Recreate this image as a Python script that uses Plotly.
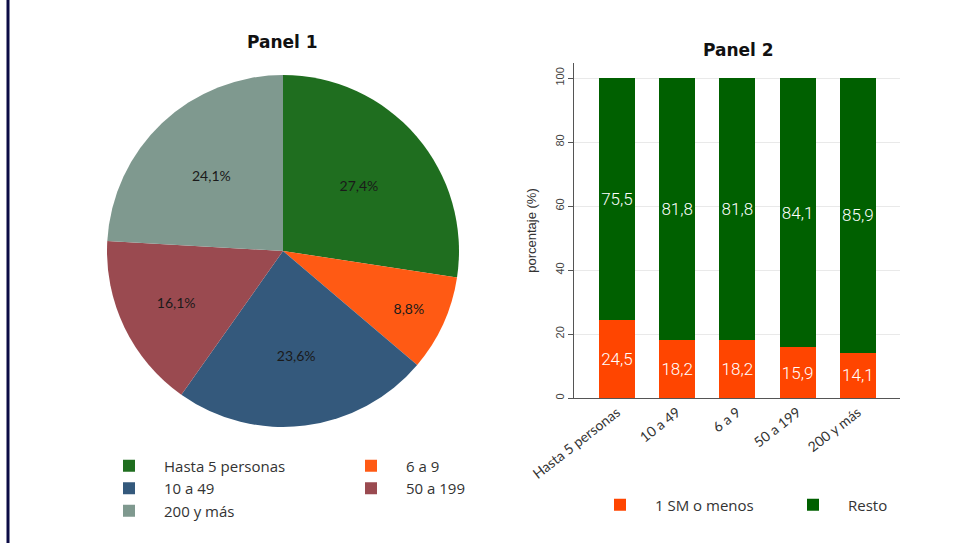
import plotly.graph_objects as go

# ---------------- data ----------------
pie_labels = ["Hasta 5 personas", "6 a 9", "10 a 49", "50 a 199", "200 y más"]
pie_values = [27.4, 8.8, 23.6, 16.1, 24.1]
pie_colors = ["#1f6e1f", "#ff5a14", "#34597c", "#9a4a50", "#7f998f"]

bar_categories = ["Hasta 5 personas", "10 a 49", "6 a 9", "50 a 199", "200 y más"]
bar_low = [24.5, 18.2, 18.2, 15.9, 14.1]
bar_rest = [75.5, 81.8, 81.8, 84.1, 85.9]
bar_names = ["1 SM o menos", "Resto"]
bar_colors = ["#ff4500", "#006000"]

y_ticks = [0, 20, 40, 60, 80, 100]

# ---------------- layout helpers ----------------
W, H = 961, 543
ML, MR = 107, 61
GW = W - ML - MR


def px(x):
    return (x - ML) / GW


def py(y):
    return (H - y) / H


FONT = "Open Sans"

fig = go.Figure()

fig.add_trace(go.Pie(
    labels=pie_labels,
    values=pie_values,
    sort=False,
    direction="clockwise",
    rotation=0,
    marker=dict(colors=pie_colors, line=dict(width=0)),
    texttemplate="%{value:.1f}%",
    textposition="inside",
    insidetextorientation="horizontal",
    textfont=dict(family="Lato", size=14, color="#1a1a1a"),
    domain=dict(x=[px(283 - 176), px(283 + 176)], y=[py(251 + 176), py(251 - 176)]),
    hoverinfo="label+value",
    legend="legend",
))

for name, vals, col in zip(bar_names, [bar_low, bar_rest], bar_colors):
    fig.add_trace(go.Bar(
        x=bar_categories,
        y=vals,
        name=name,
        marker=dict(color=col, line=dict(width=0)),
        texttemplate="%{y:.1f}",
        textposition="inside",
        insidetextanchor="middle",
        constraintext="none",
        textangle=0,
        textfont=dict(family="Roboto", size=17, color="white", weight=300),
        xaxis="x", yaxis="y",
        legend="legend2",
    ))

fig.update_layout(
    width=W, height=H,
    separators=",.",
    paper_bgcolor="white",
    plot_bgcolor="white",
    barmode="stack",
    bargap=0.4,
    margin=dict(l=ML, r=MR, t=0, b=0, autoexpand=False),
    font=dict(family=FONT, color="#333333"),
    xaxis=dict(
        domain=[px(574), px(900)],
        range=[-0.713, 4.70],
        tickangle=-38,
        tickfont=dict(family="Lato", size=14, color="#333333"),
        showline=True, linecolor="#555555", linewidth=1,
        ticks="", showgrid=False,
    ),
    yaxis=dict(
        domain=[py(398), py(63)],
        range=[0, 104.7],
        tickvals=y_ticks,
        tickangle=-90,
        tickfont=dict(family="Liberation Sans", size=11, color="#444444"),
        ticks="outside", ticklen=5, tickcolor="#555555",
        showline=True, linecolor="#555555", linewidth=1,
        showgrid=True, gridcolor="#e9e9e9", gridwidth=1,
        zeroline=False,
        title=dict(text="porcentaje (%)", font=dict(family="Liberation Sans", size=13, color="#333333"), standoff=14),
    ),
    legend=dict(
        orientation="h",
        x=px(94), xanchor="left",
        y=py(449.4), yanchor="top",
        itemwidth=60,
        entrywidth=167,
        entrywidthmode="pixels",
        font=dict(family=FONT, size=15, color="#333333"),
        bgcolor="rgba(0,0,0,0)",
        traceorder="normal",
    ),
    legend2=dict(
        orientation="h",
        x=px(585), xanchor="left",
        y=py(488.4), yanchor="top",
        itemwidth=60,
        entrywidth=118,
        entrywidthmode="pixels",
        font=dict(family=FONT, size=15, color="#333333"),
        bgcolor="rgba(0,0,0,0)",
        traceorder="normal",
    ),
    annotations=[
        dict(text="<b>Panel 1</b>", x=px(282), y=py(42), xref="paper", yref="paper",
             xanchor="center", yanchor="middle",
             showarrow=False, font=dict(family="DejaVu Sans", size=17, color="#111111")),
        dict(text="<b>Panel 2</b>", x=px(738), y=py(50), xref="paper", yref="paper",
             xanchor="center", yanchor="middle",
             showarrow=False, font=dict(family="DejaVu Sans", size=17, color="#111111")),
    ],
    shapes=[
        dict(type="line", xref="paper", yref="paper", x0=px(8), x1=px(8), y0=0, y1=1,
             line=dict(color="#0b0b45", width=3)),
    ],
)

fig.write_html("out.html", config={"displayModeBar": False},
               post_script="document.body.style.margin='0';")
